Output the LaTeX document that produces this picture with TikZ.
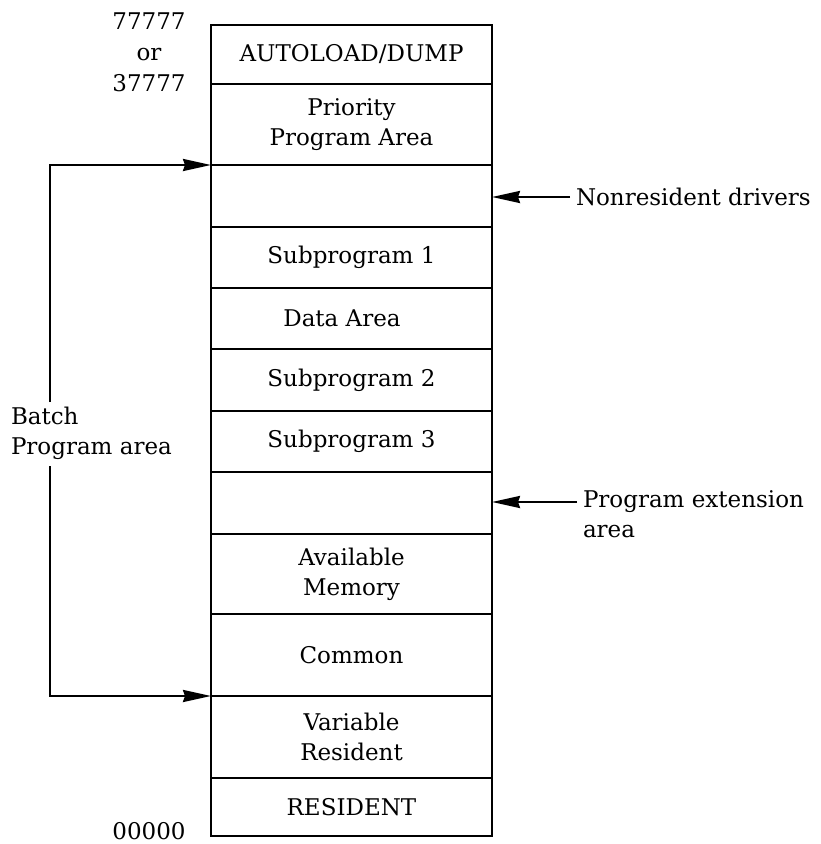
\documentclass[tikz,border=0pt]{standalone}
\usepackage{fontspec}
\setmainfont{DejaVu Serif}
\usetikzlibrary{arrows.meta}

\begin{document}
\begin{tikzpicture}[x=1pt,y=-1pt,
  every node/.style={font=\fontsize{23}{30}\selectfont},
  sect/.style={draw, line width=2.5pt, rectangle, minimum width=281pt,
    inner sep=0pt, outer sep=0pt, align=center},
  lbl/.style={inner sep=0pt, outer sep=0pt},
  arr/.style={line width=2.4pt, -{Stealth[length=28pt,width=12pt,inset=2pt]}}]
  \useasboundingbox (0,0) rectangle (820,844);

  % memory map, top (high addresses) to bottom (low addresses)
  \node[sect, minimum height=59pt] (autoload) at (351.5,54.5) {AUTOLOAD/DUMP};
  \node[sect, minimum height=81pt] (priority) at (351.5,124.5) {Priority\\Program Area};
  \node[sect, minimum height=62pt] (drivers)  at (351.5,196)   {};
  \node[sect, minimum height=61pt] (sub1)     at (351.5,257.5) {Subprogram 1};
  \node[sect, minimum height=61pt] (data)     at (351.5,318.5) {};
  \node[lbl] (datatxt) at (342,318.5) {Data Area};
  \node[sect, minimum height=62pt] (sub2)     at (351.5,380)   {Subprogram 2};
  \node[sect, minimum height=61pt] (sub3)     at (351.5,441.5) {Subprogram 3};
  \node[sect, minimum height=62pt] (ext)      at (351.5,503)   {};
  \node[sect, minimum height=80pt] (avail)    at (351.5,574)   {Available\\Memory};
  \node[sect, minimum height=82pt] (common)   at (351.5,655)   {Common};
  \node[sect, minimum height=82pt] (varres)   at (351.5,737)   {Variable\\Resident};
  \node[sect, minimum height=58pt] (resident) at (351.5,807)   {RESIDENT};

  % address labels
  \node[lbl, align=center, font=\fontsize{23}{31}\selectfont] (hiaddr) at (149,52) {77777\\or\\37777};
  \node[lbl] (loaddr) at (149,831) {00000};

  % batch program area bracket
  \node[lbl, align=left, anchor=west] (batch) at (11,433) {Batch\\Program area};
  \coordinate (btop) at (50,402);
  \coordinate (bbot) at (50,466);
  \draw[arr] (btop) |- (drivers.north west);
  \draw[arr] (bbot) |- (varres.north west);

  % right-hand annotations
  \node[lbl, anchor=west, inner sep=6pt] (nrd) at (570,197) {Nonresident drivers};
  \draw[arr] (nrd.west) -- (nrd.west -| drivers.east);
  \node[lbl, anchor=west, inner sep=6pt] (pext) at (577,502) {Program extension};
  \node[lbl, anchor=base west] (pext2) at ([yshift=-30pt]pext.base west) {\hspace*{6pt}area};
  \draw[arr] (pext.west) -- (pext.west -| ext.east);
\end{tikzpicture}
\end{document}
